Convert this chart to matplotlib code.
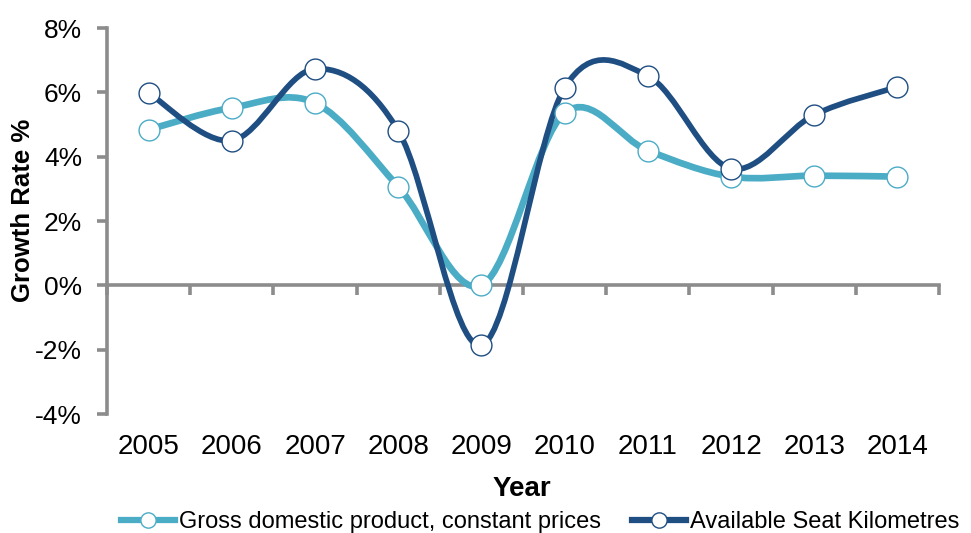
import matplotlib
matplotlib.use("Agg")
import matplotlib.pyplot as plt
from matplotlib.path import Path
from matplotlib.patches import PathPatch
from matplotlib.lines import Line2D
from matplotlib.ticker import FuncFormatter
import numpy as np

years = ["2005", "2006", "2007", "2008", "2009", "2010", "2011", "2012", "2013", "2014"]
gdp = [4.84, 5.52, 5.67, 3.07, 0.0, 5.36, 4.19, 3.38, 3.41, 3.38]
ask = [5.98, 4.50, 6.73, 4.81, -1.86, 6.14, 6.51, 3.63, 5.30, 6.17]

labels = ["Gross domestic product, constant prices", "Available Seat Kilometres"]
colors = ["#4BACC6", "#1F4E82"]
axis_grey = "#8C8C8C"

plt.rcParams["font.family"] = ["Liberation Sans", "DejaVu Sans"]


def smooth_path(xs, ys):
    # Excel-style smoothed line: cubic bezier segments, 1/6 tangent rule
    pts = np.column_stack([xs, ys]).astype(float)
    n = len(pts)
    verts = [pts[0]]
    codes = [Path.MOVETO]
    for i in range(n - 1):
        p0 = pts[max(i - 1, 0)]
        p1 = pts[i]
        p2 = pts[i + 1]
        p3 = pts[min(i + 2, n - 1)]
        c1 = p1 + (p2 - p0) / 6.0
        c2 = p2 - (p3 - p1) / 6.0
        verts += [c1, c2, p2]
        codes += [Path.CURVE4] * 3
    return Path(verts, codes)


fig = plt.figure(figsize=(9.71, 5.33), dpi=100)
W, H = 971, 533
ax = fig.add_axes([107 / W, 1 - 414 / H, (939 - 107) / W, (414 - 28) / H])

x = np.arange(len(years))
for vals, col, lw in [(gdp, colors[0], 4.8), (ask, colors[1], 4.1)]:
    ax.add_patch(PathPatch(smooth_path(x, vals), fill=False, edgecolor=col,
                           linewidth=lw, capstyle="round", joinstyle="round", zorder=3))
    ax.plot(x, vals, linestyle="none", marker="o", markersize=15,
            markerfacecolor="white", markeredgecolor=col, markeredgewidth=1.0, zorder=4)

ax.set_xlim(-0.5, len(years) - 0.5)
ax.set_ylim(-4, 8)
ax.set_yticks(np.arange(-4, 9, 2))
ax.yaxis.set_major_formatter(FuncFormatter(lambda v, p: f"{v:.0f}%"))

# category axis crosses at 0%
for s in ["top", "right"]:
    ax.spines[s].set_visible(False)
ax.spines["bottom"].set_position(("data", 0))
for s in ["left", "bottom"]:
    ax.spines[s].set_color(axis_grey)
    ax.spines[s].set_linewidth(2.6)

ax.set_xticks(np.arange(-0.5, len(years), 1.0))
ax.set_xticklabels([])
ax.tick_params(axis="x", direction="out", length=7, width=2.6, color=axis_grey)
ax.tick_params(axis="y", direction="out", length=7, width=2.6, color=axis_grey,
               labelsize=19, pad=11)

for i, yr in enumerate(years):
    ax.text(i, -5.03, yr, ha="center", va="center", fontsize=20,
            transform=ax.transData)

fig.text(23 / W, 1 - 210 / H, "Growth Rate %", rotation=90, ha="center", va="center",
         fontsize=18.5, fontweight="bold")
fig.text(522 / W, 1 - 489 / H, "Year", ha="center", va="center",
         fontsize=20, fontweight="bold")

handles = [Line2D([], [], color=c, linewidth=4.5, marker="o", markersize=11,
                  markerfacecolor="white", markeredgecolor=c, markeredgewidth=1.0)
           for c in colors]
fig.legend(handles, labels, loc="center", bbox_to_anchor=(540 / W, 1 - 522 / H),
           ncol=2, frameon=False, fontsize=17, handlelength=2.3, handletextpad=0.15,
           columnspacing=1.3, borderaxespad=0, borderpad=0)

fig.savefig("out.png", dpi=100)
